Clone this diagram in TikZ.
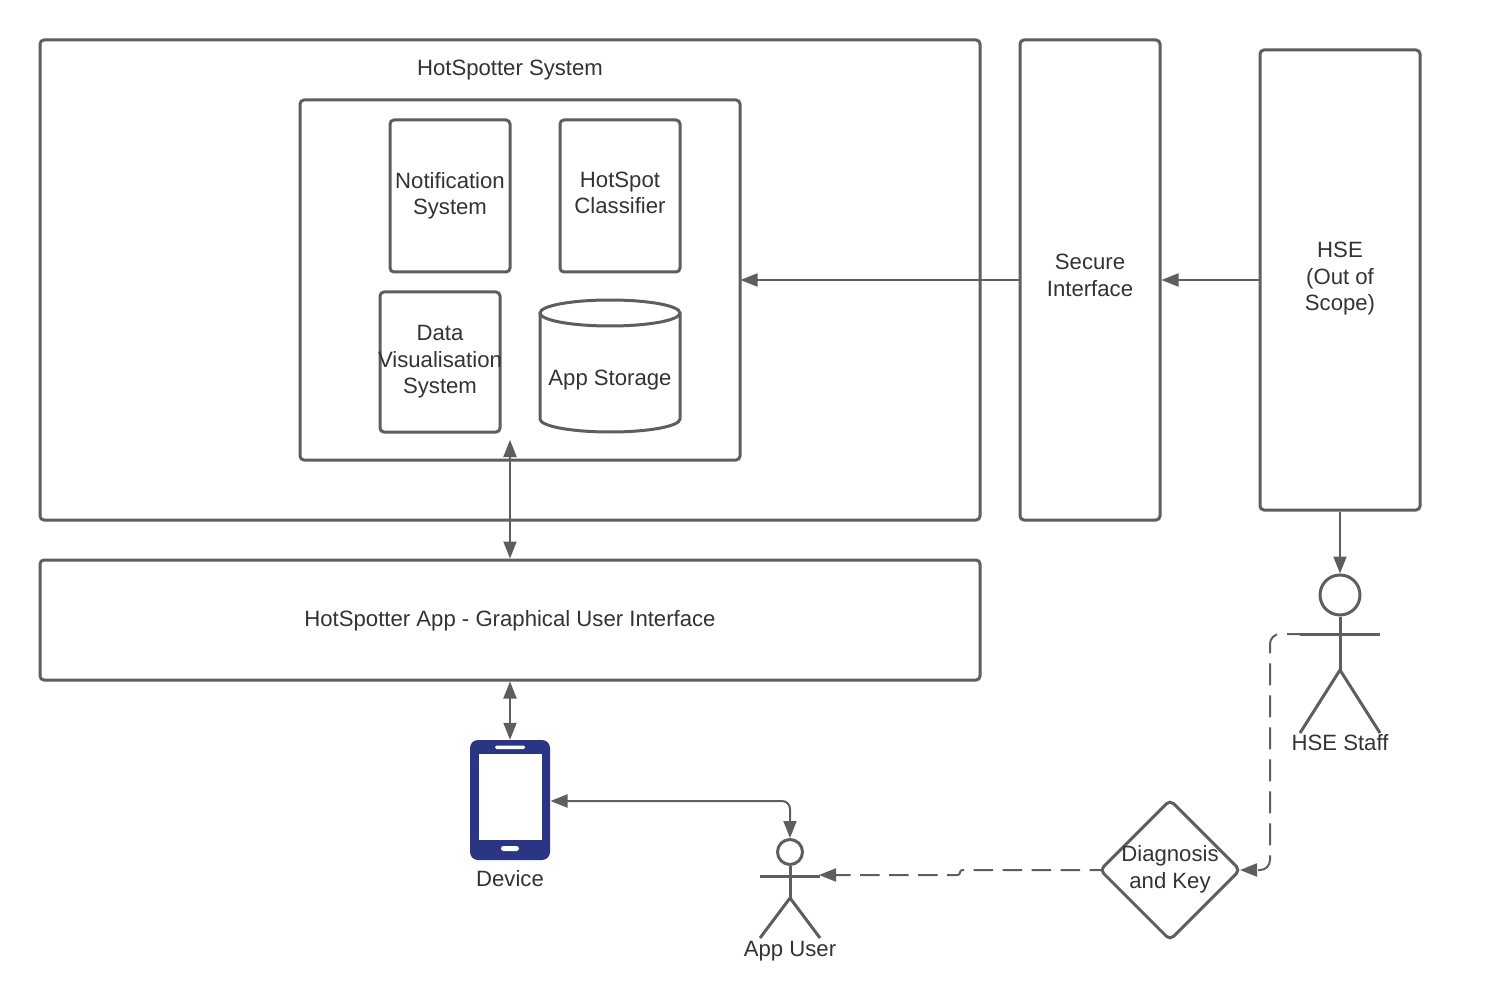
\documentclass[tikz,border=0pt]{standalone}
\usepackage{fontspec}
\setmainfont{Liberation Sans}
\usetikzlibrary{arrows.meta,shapes.geometric}
\definecolor{linegrey}{HTML}{5E5E5E}
\definecolor{textgrey}{HTML}{333333}
\definecolor{phoneblue}{HTML}{2A3583}
\tikzset{
  box/.style={draw=linegrey,line width=3pt,rounded corners=4pt,inner sep=0pt,fill=white},
  txt/.style={text=textgrey,font=\fontsize{22.15}{26.5}\selectfont,align=center,inner sep=0pt},
  conn/.style={draw=linegrey,line width=2pt,-{Triangle[length=17pt,width=13pt]}},
  both/.style={draw=linegrey,line width=2pt,{Triangle[length=17pt,width=13pt]}-{Triangle[length=17pt,width=13pt]}},
  limb/.style={draw=linegrey,line width=3pt}
}
\begin{document}
\begin{tikzpicture}[x=1pt,y=-1pt]
    \useasboundingbox (0,0) rectangle (1489,1000);
    % boxes
    \node[box,minimum width=940pt,minimum height=480pt] (system) at (510,280) {};
    \node[box,minimum width=140pt,minimum height=480pt] (secure) at (1090,280) {};
    \node[box,minimum width=160pt,minimum height=460pt] (hse) at (1340,280) {};
    \node[box,minimum width=440pt,minimum height=360pt] (inner) at (520,280) {};
    \node[box,minimum width=120pt,minimum height=152pt] (notif) at (450,196) {};
    \node[box,minimum width=120pt,minimum height=152pt] (classifier) at (620,196) {};
    \node[box,minimum width=120pt,minimum height=140pt] (dataviz) at (440,362) {};
    \node[box,minimum width=940pt,minimum height=120pt] (gui) at (510,620) {};
    % storage
    \draw[limb,fill=white] (540,313) -- (540,419) arc[x radius=70,y radius=13,start angle=180,end angle=0] -- (680,313);
    \draw[limb] (610,313) ellipse[x radius=70,y radius=13];
    % device
    \node[fill=phoneblue,rounded corners=8pt,minimum width=80pt,minimum height=120pt,inner sep=0pt] (device) at (510,800) {};
    \fill[white] (478.500,754) rectangle (541.500,839.500);
    \fill[white,rounded corners=1.500pt] (495,745.500) rectangle (525,749);
    \fill[white,rounded corners=2.500pt] (501,846) rectangle (519,851);
    % diamond
    \node[diamond,draw=linegrey,line width=3pt,rounded corners=5pt,minimum width=141pt,minimum height=141pt,aspect=1,inner sep=0pt] (diag) at (1170,870) {};
    % actors
    \node[circle,draw=linegrey,line width=3pt,minimum size=40pt,inner sep=0pt] (staffhead) at (1340,595) {};
    \draw[limb] (staffhead.south) -- (1340,670) coordinate (staffhip);
    \draw[limb] (1300,634) coordinate (staffarm) -- (1380,634);
    \draw[limb] (1300,733) -- (staffhip) -- (1380,733);
    \node[circle,draw=linegrey,line width=3pt,minimum size=25pt,inner sep=0pt] (userhead) at (790,852) {};
    \draw[limb] (userhead.south) -- (790,898) coordinate (userhip);
    \draw[limb] (760,876.500) -- (820,876.500);
    \draw[limb] (760,938) -- (userhip) -- (820,938);
    % connectors
    \coordinate (innerrt) at (740.500,280);
    \coordinate (innerbot) at (510,440);
    \coordinate (devrt) at (550.500,801);
    \coordinate (userarm) at (819,875);
    \coordinate (diagin) at (1240,870);
    \coordinate (diagout) at (1101,870);
    \draw[conn] (secure.west) -- (innerrt);
    \draw[conn] (hse.west) -- (secure.east);
    \draw[conn] (hse.south) -- (staffhead.north);
    \draw[both] (innerbot) -- (gui.north-|innerbot);
    \draw[both] (gui.south-|device.north) -- (device.north);
    \draw[both,rounded corners=8pt] (devrt) -- (790,801) -- (userhead.north);
    \draw[conn,dash pattern=on 22pt off 10pt,dash phase=9pt,rounded corners=10pt] (staffarm) -- (1270,634) -- (1270,870) -- (diagin);
    \draw[conn,dash pattern=on 19.500pt off 9.500pt,dash phase=8pt,rounded corners=2.500pt] (diagout) -- (960,870) -- (960,875) -- (userarm);
    % labels
    \node[txt] (systemtxt) at (510,70.500) {HotSpotter System};
    \node[txt] (notiftxt) at (450,196) {Notification\\System};
    \node[txt] (classifiertxt) at (620,193) {HotSpot\\Classifier};
    \node[txt] (datavizxt) at (440,362) {Data\\Visualisation\\System};
    \node[txt] (storagetxt) at (610,380.500) {App Storage};
    \node[txt] (securetxt) at (1090,275.500) {Secure\\Interface};
    \node[txt] (hsetxt) at (1340,279) {HSE\\(Out of\\Scope)};
    \node[txt] (guitxt) at (510,621) {HotSpotter App - Graphical User Interface};
    \node[txt] (devicetxt) at (510,879) {Device};
    \node[txt] (usertxt) at (790,951) {App User};
    \node[txt] (stafftxt) at (1340,743) {HSE Staff};
    \node[txt] (diagtxt) at (1170,869.500) {Diagnosis\\and Key};
\end{tikzpicture}
\end{document}
